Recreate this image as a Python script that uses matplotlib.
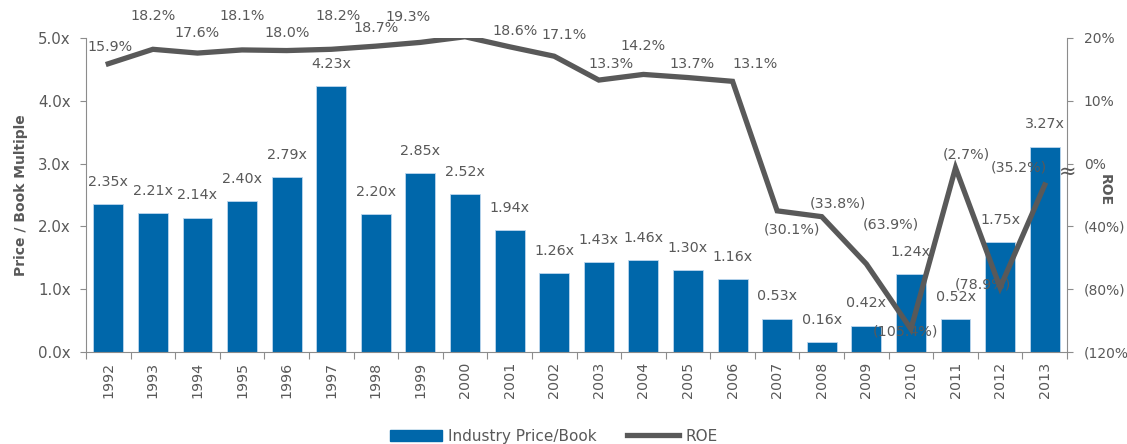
import matplotlib
matplotlib.use('Agg')
import matplotlib.pyplot as plt
from matplotlib.patches import Patch
from matplotlib.lines import Line2D
import numpy as np

years = ['1992', '1993', '1994', '1995', '1996', '1997', '1998', '1999', '2000', '2001', '2002',
         '2003', '2004', '2005', '2006', '2007', '2008', '2009', '2010', '2011', '2012', '2013']
price_book = [2.35, 2.21, 2.14, 2.40, 2.79, 4.23, 2.20, 2.85, 2.52, 1.94, 1.26,
              1.43, 1.46, 1.30, 1.16, 0.53, 0.16, 0.42, 1.24, 0.52, 1.75, 3.27]
# ROE as drawn on the chart (2013 point sits above its printed value)
roe = [15.9, 18.2, 17.6, 18.1, 18.0, 18.2, 18.7, 19.3, 20.2, 18.6, 17.1,
       13.3, 14.2, 13.7, 13.1, -30.1, -33.8, -63.9, -105.4, -2.7, -78.9, -13.6]
roe_labels = ['15.9%', '18.2%', '17.6%', '18.1%', '18.0%', '18.2%', '18.7%', '19.3%', '20.2%',
              '18.6%', '17.1%', '13.3%', '14.2%', '13.7%', '13.1%', '(30.1%)', '(33.8%)',
              '(63.9%)', '(105.4%)', '(2.7%)', '(78.9%)', '(35.2%)']
roe_ticks = [-120, -80, -40, 0, 10, 20]
roe_tick_labels = ['(120%)', '(80%)', '(40%)', '0%', '10%', '20%']

BLUE = '#0067AA'
LINE = '#595959'
TEXT = '#595959'
SPINE = '#8C8C8C'
plt.rcParams['font.family'] = ['DejaVu Sans']

def fwd(r):
	r = np.asarray(r, dtype=float)
	return np.where(r >= 0, r / 10.0, r / 40.0)

def inv(v):
	v = np.asarray(v, dtype=float)
	return np.where(v >= 0, v * 10.0, v * 40.0)

fig = plt.figure(figsize=(11.27, 4.44), dpi=100)
ax = fig.add_axes([86/1127, 1 - 352/444, (1067 - 86)/1127, (352 - 38)/444])
x = np.arange(len(years))

bars = ax.bar(x, price_book, width=0.67, color=BLUE, edgecolor='#BDD7EE', linewidth=0.6, zorder=2)
for xi, v in zip(x, price_book):
	ax.annotate('%.2fx' % v, (xi, v), xytext=(0, 16), textcoords='offset points',
				ha='center', va='center', fontsize=10.3, color=TEXT)

ax.set_xlim(-0.5, len(years) - 0.5)
ax.set_ylim(0, 5)
ax.set_yticks([0, 1, 2, 3, 4, 5])
ax.set_yticklabels(['%.1fx' % t for t in range(6)])
ax.set_xticks(np.arange(-0.5, len(years), 1))
ax.set_xticklabels([])
ax.set_xticks(x, minor=True)
ax.set_xticklabels(years, minor=True, rotation=90)
ax.tick_params(axis='x', which='major', length=5, color=SPINE, direction='out')
ax.tick_params(axis='x', which='minor', length=0, pad=7, labelsize=10.3, labelcolor=TEXT)
ax.tick_params(axis='y', length=4, pad=7, color=SPINE, labelsize=10.8, labelcolor=TEXT)
for s in ['top', 'right']:
	ax.spines[s].set_visible(False)
for s in ['left', 'bottom']:
	ax.spines[s].set_color(SPINE)
ax.set_ylabel('Price / Book Multiple', fontsize=10, fontweight='bold', color=TEXT, labelpad=7)

ax2 = ax.twinx()
ax2.set_yscale('function', functions=(fwd, inv))
ax2.set_ylim(-120, 20)
ax2.plot(x, roe, color=LINE, linewidth=3.8, solid_joinstyle='miter', zorder=3)
ax2.set_yticks(roe_ticks)
ax2.set_yticklabels(roe_tick_labels)
ax2.yaxis.set_minor_locator(matplotlib.ticker.NullLocator())
ax2.tick_params(axis='y', length=4, pad=8, color=SPINE, labelsize=10, labelcolor=TEXT)
for s in ['top', 'left', 'bottom']:
	ax2.spines[s].set_visible(False)
ax2.spines['right'].set_color(SPINE)

# label offsets in pixels (dx, dy up)
offs = [(2, 17), (0, 33), (0, 20), (0, 34), (0, 18), (7, 33), (0, 18), (-12, 25), (2, 20),
		(5, 16), (10, 21), (12, 16), (0, 28), (4, 14), (22, 17), (15, -19), (16, 13),
		(25, 39), (-5, -2), (11, 13), (-17, 3), (-26, 17)]
for xi, r, lab, (dx, dy) in zip(x, roe, roe_labels, offs):
	ax2.annotate(lab, (xi, r), xytext=(dx * 0.72, dy * 0.72), textcoords='offset points',
				 ha='center', va='center', fontsize=10.3, color=TEXT, zorder=4)

fig.text(1105/1127, 1 - 190/444, 'ROE', rotation=270, ha='center', va='center',
		 fontsize=10, fontweight='bold', color=TEXT)
fig.text(1068/1127, 1 - 172/444, '\u2248', ha='center', va='center', fontsize=15, color=TEXT)

handles = [Patch(facecolor=BLUE, edgecolor=BLUE),
		   Line2D([0], [0], color=LINE, linewidth=3.8)]
fig.legend(handles, ['Industry Price/Book', 'ROE'], loc='center', bbox_to_anchor=(554/1127, 1 - 436/444),
		   ncol=2, frameon=False, fontsize=11, labelcolor=TEXT, handlelength=3.4, handleheight=0.7,
		   columnspacing=2.0, handletextpad=0.4)

fig.savefig('out.png', dpi=100)
